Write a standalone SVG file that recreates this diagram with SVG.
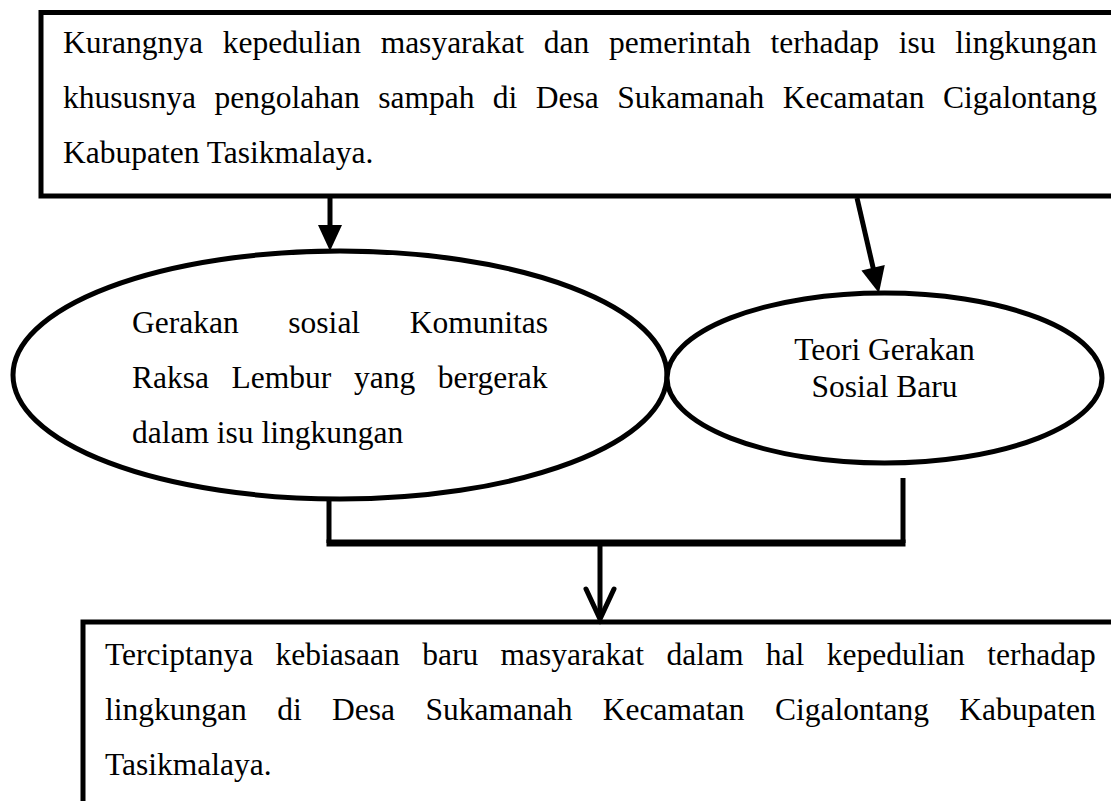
<svg xmlns="http://www.w3.org/2000/svg" width="1111" height="801" viewBox="0 0 1111 801">
<style>
.box{fill:#fff;stroke:#000;stroke-width:5}
.ell{fill:#fff;stroke:#000;stroke-width:5}
.t{font-family:"Liberation Serif","Times New Roman",serif;font-size:31.5px;fill:#000}
.ln{stroke:#000;stroke-width:5;fill:none}
</style>
<defs>
<marker id="tri" markerUnits="userSpaceOnUse" markerWidth="30" markerHeight="30" refX="16" refY="12" orient="auto" overflow="visible">
<path d="M0,0 L26,12 L0,24 Z" fill="#000"/>
</marker>
</defs>
<rect width="1111" height="801" fill="#fff"/>
<g id="node-top">
<rect class="box" x="41" y="12.5" width="1100" height="183.5"/>
<text class="t" x="63" y="53" word-spacing="11.87">Kurangnya kepedulian masyarakat dan pemerintah terhadap isu lingkungan</text>
<text class="t" x="63" y="108" word-spacing="10.61">khususnya pengolahan sampah di Desa Sukamanah Kecamatan Cigalontang</text>
<text class="t" x="63" y="163">Kabupaten Tasikmalaya.</text>
</g>
<g id="node-gerakan">
<ellipse class="ell" cx="340" cy="375" rx="327" ry="124"/>
<text class="t" x="132" y="333" word-spacing="41.8">Gerakan sosial Komunitas</text>
<text class="t" x="132" y="388" word-spacing="14.76">Raksa Lembur yang bergerak</text>
<text class="t" x="132" y="443">dalam isu lingkungan</text>
</g>
<g id="node-teori">
<ellipse class="ell" cx="884.5" cy="378" rx="217.5" ry="85"/>
<text class="t" x="884.5" y="360" text-anchor="middle">Teori Gerakan</text>
<text class="t" x="884.5" y="397" text-anchor="middle">Sosial Baru</text>
</g>
<g id="node-bottom">
<rect class="box" x="83" y="622" width="1100" height="250"/>
<text class="t" x="105" y="665" word-spacing="14.53">Terciptanya kebiasaan baru masyarakat dalam hal kepedulian terhadap</text>
<text class="t" x="105" y="720" word-spacing="22.55">lingkungan di Desa Sukamanah Kecamatan Cigalontang Kabupaten</text>
<text class="t" x="105" y="775">Tasikmalaya.</text>
</g>
<g id="connectors">
<line class="ln" x1="330" y1="198" x2="330" y2="241" marker-end="url(#tri)"/>
<line class="ln" x1="857" y1="198" x2="876.7" y2="283.3" marker-end="url(#tri)"/>
<line class="ln" x1="329" y1="499" x2="329" y2="543"/>
<line class="ln" x1="903" y1="478" x2="903" y2="543"/>
<line x1="326.5" y1="543" x2="905.5" y2="543" stroke="#000" stroke-width="7"/>
<line class="ln" x1="600" y1="546" x2="600" y2="616"/>
<path d="M586,589 L600,619 L614,589" fill="none" stroke="#000" stroke-width="5" stroke-linecap="round" stroke-linejoin="miter"/>
</g>
</svg>
